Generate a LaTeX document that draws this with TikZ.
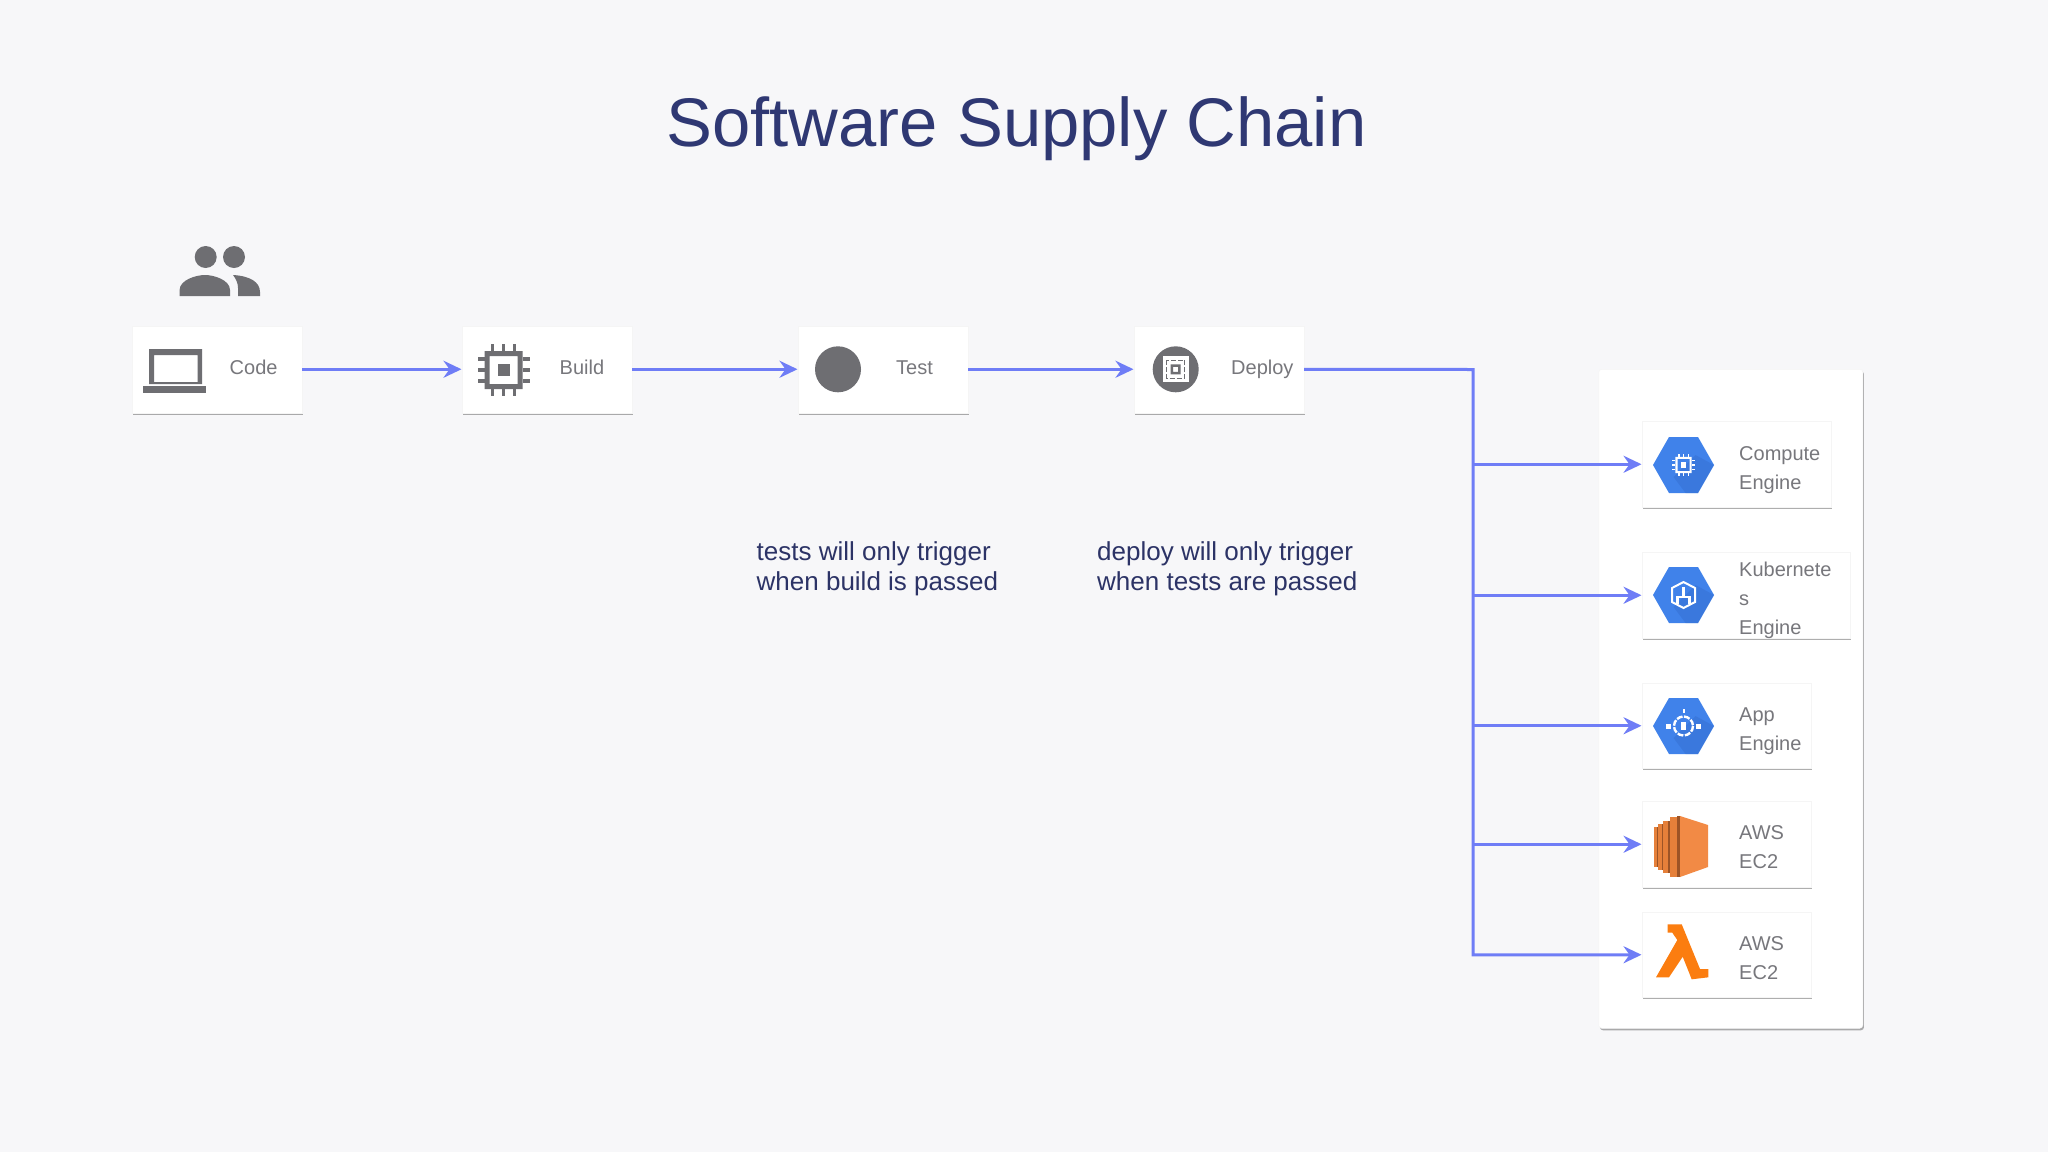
\documentclass[tikz,border=0pt]{standalone}
\usepackage{fontspec}
\setmainfont{Liberation Sans}
\usetikzlibrary{arrows.meta,shadows}
\definecolor{pagebg}{HTML}{F7F7F9}
\definecolor{titleblue}{HTML}{2F3873}
\definecolor{captionblue}{HTML}{2C3366}
\definecolor{flowblue}{HTML}{6F7DF6}
\definecolor{icongrey}{HTML}{6E6E72}
\definecolor{labelgrey}{HTML}{77777C}
\definecolor{gcpblue}{HTML}{4082EA}
\definecolor{gcpshade}{HTML}{3570D2}
\definecolor{ec2orange}{HTML}{F28A45}
\definecolor{ec2strip}{HTML}{E5803A}
\definecolor{ec2dark}{HTML}{9C5426}
\definecolor{lambdaorange}{HTML}{FB7D10}
\tikzset{
  cardshadow/.style={drop shadow={shadow xshift=1.2pt,shadow yshift=-2pt,opacity=.45,fill=black!70}},
  card/.style={draw=black!4,line width=.5pt,fill=white,inner sep=0pt,anchor=north west,cardshadow},
  cardtext/.style={text=labelgrey,font=\fontsize{20}{29}\selectfont,inner sep=0pt,anchor=west,align=left},
  cardname/.style={text=labelgrey,font=\fontsize{20}{29}\selectfont,inner sep=0pt,anchor=base west},
  caption/.style={text=captionblue,font=\fontsize{26}{30.5}\selectfont,inner sep=0pt,anchor=north west,align=left},
  flow/.style={draw=flowblue,line width=3pt,-{Stealth[length=18pt,width=17pt,inset=6pt]}},
  pics/chipicon/.style={code={
    \fill[#1,even odd rule] (-19,-19) rectangle (19,19) (-14,-14) rectangle (14,14);
    \fill[#1] (-6,-6) rectangle (6,6);
    \foreach \p in {-11,0,11} {
      \fill[#1] (\p-1.7,-26) rectangle (\p+1.7,-19);
      \fill[#1] (\p-1.7,19) rectangle (\p+1.7,26);
      \fill[#1] (-26,\p-1.7) rectangle (-19,\p+1.7);
      \fill[#1] (19,\p-1.7) rectangle (26,\p+1.7);
    }
  }},
  pics/hexicon/.style={code={
    \fill[gcpblue] (-30.5,0) -- (-14.5,-28) -- (14.5,-28) -- (30.5,0) -- (14.5,28) -- (-14.5,28) -- cycle;
    \fill[gcpshade,opacity=.5] (12,-10) -- (30.5,0) -- (14.5,28) -- (2,28) -- (-10,12) -- cycle;
  }}
}
\begin{document}
\begin{tikzpicture}[x=1pt,y=-1pt]
\useasboundingbox (0,0) rectangle (2048,1152);
\fill[pagebg] (0,0) rectangle (2048,1152);

\node[text=titleblue,font=\fontsize{68.8}{68.8}\selectfont,inner sep=0pt,anchor=base] (title) at (1016.5,146) {Software Supply Chain};

% people
\fill[icongrey] (205.7,257) circle (11);
\fill[icongrey] (234,257) circle (11);
\fill[icongrey] (179.6,296) -- (179.6,290) .. controls (179.6,280) and (196,275) .. (205,275) .. controls (214,275) and (230,280) .. (230,290) -- (230,296) -- cycle;
\fill[icongrey] (233,275) .. controls (250,276) and (260,282) .. (260,292) -- (260,296) -- (238,296) -- (238,288) .. controls (238,283) and (236,279) .. (233,275) -- cycle;

% panel and cards
\node[card,rounded corners=3pt,minimum width=264pt,minimum height=659pt] (panel) at (1598.5,369) {};

\node[card,minimum width=170pt,minimum height=87pt] (code) at (131.5,325.5) {};
\node[card,minimum width=170pt,minimum height=87pt] (build) at (461.5,325.5) {};
\node[card,minimum width=170pt,minimum height=87pt] (test) at (797.5,325.5) {};
\node[card,minimum width=170pt,minimum height=87pt] (deploy) at (1133.5,325.5) {};

\node[card,minimum width=189pt,minimum height=86pt] (compute) at (1641.5,421) {};
\node[card,minimum width=208pt,minimum height=86pt] (kube) at (1641.5,552) {};
\node[card,minimum width=169pt,minimum height=85pt] (app) at (1641.5,683) {};
\node[card,minimum width=169pt,minimum height=86pt] (ectwo) at (1641.5,801) {};
\node[card,minimum width=169pt,minimum height=85pt] (lambda) at (1641.5,912) {};

% labels
\node[cardname] (codetext) at (229.5,374) {Code};
\node[cardname] (buildtext) at (559.5,374) {Build};
\node[cardname] (testtext) at (896,374) {Test};
\node[cardname] (deploytext) at (1231,374) {Deploy};
\node[cardtext] (computetext) at (1739,470) {Compute\\Engine};
\node[cardtext] (kubetext) at (1739,600) {Kubernete\\s\\Engine};
\node[cardtext] (apptext) at (1739,731) {App\\Engine};
\node[cardtext] (ectwotext) at (1739,847) {AWS\\EC2};
\node[cardtext] (lambdatext) at (1739,958) {AWS\\EC2};

\node[caption] (testnote) at (756.5,541) {tests will only trigger\\when build is passed};
\node[caption] (deploynote) at (1097,541) {deploy will only trigger\\when tests are passed};

% laptop
\fill[icongrey,even odd rule] (149,349) rectangle (202,384) (154,355) rectangle (197.5,382);
\fill[icongrey] (143,386) rectangle (206,393);

\pic at (503.6,370) {chipicon=icongrey};

% test and deploy
\fill[icongrey] (838,369.3) circle (23);
\fill[icongrey] (1175.7,369.3) circle (23);
\fill[white] (1162.7,356.3) rectangle (1188.7,382.3);
\draw[icongrey,line width=1.5pt,dash pattern=on 5pt off 2pt] (1166.7,360.3) rectangle (1184.7,378.3);
\fill[icongrey,even odd rule] (1170.7,364.3) rectangle (1180.7,374.3) (1173.2,366.8) rectangle (1178.2,371.8);

% gcp icons
\pic at (1683.5,465) {hexicon};
\pic[scale=.43] at (1683.5,465) {chipicon=white};
\pic at (1683.5,595) {hexicon};
\draw[white,line width=2pt] (1683.5,582) -- (1695,588) -- (1695,602) -- (1683.5,608) -- (1672,602) -- (1672,588) -- cycle;
\draw[white,line width=2.2pt] (1683.5,587) -- (1683.5,596) (1677.5,604) -- (1677.5,597) -- (1689.5,597) -- (1689.5,604);
\pic at (1683.5,726) {hexicon};
\draw[white,line width=2.4pt,dash pattern=on 6pt off 1.5pt] (1683.5,726) circle (9.5);
\fill[white] (1666,723.5) rectangle (1671,728.5);
\fill[white] (1696,723.5) rectangle (1701,728.5);
\fill[white] (1682.5,709) rectangle (1684.5,713);
\fill[white] (1681,722) rectangle (1686,730);

% ec2
\fill[ec2orange] (1680,816) -- (1708,825) -- (1708,867) -- (1680,877) -- cycle;
\fill[ec2dark] (1676.7,815.7) rectangle (1680,877);
\foreach \sa/\sb/\sy in {1654.3/1656.7/827,1658.3/1661.7/824,1663.3/1668.3/820.5,1670/1676.7/817} {
  \fill[ec2dark] (\sa,\sy) rectangle (\sb+2,1693.5-\sy);
  \fill[ec2strip] (\sa,\sy) rectangle (\sb,1693.5-\sy);
}

% lambda
\fill[lambdaorange] (1667.7,924.3) -- (1681.7,924.3) -- (1700,969) -- (1708.3,969) -- (1708.3,977.3) -- (1691.7,979.3) -- (1682.7,956.7) -- (1669,977.3) -- (1656,977.3) -- (1677.3,940) -- (1672.3,932.7) -- (1667.7,932.7) -- cycle;

% connectors
\coordinate (bustop) at (1473,369.5);
\draw[flow] (code.east) -- (build.west);
\draw[flow] (build.east) -- (test.west);
\draw[flow] (test.east) -- (deploy.west);
\draw[flow] (deploy.east) -- (bustop) |- (lambda.west);
\draw[flow] (bustop |- compute.west) -- (compute.west);
\draw[flow] (bustop |- kube.west) -- (kube.west);
\draw[flow] (bustop |- app.west) -- (app.west);
\draw[flow] (bustop |- ectwo.west) -- (ectwo.west);

\end{tikzpicture}
\end{document}
